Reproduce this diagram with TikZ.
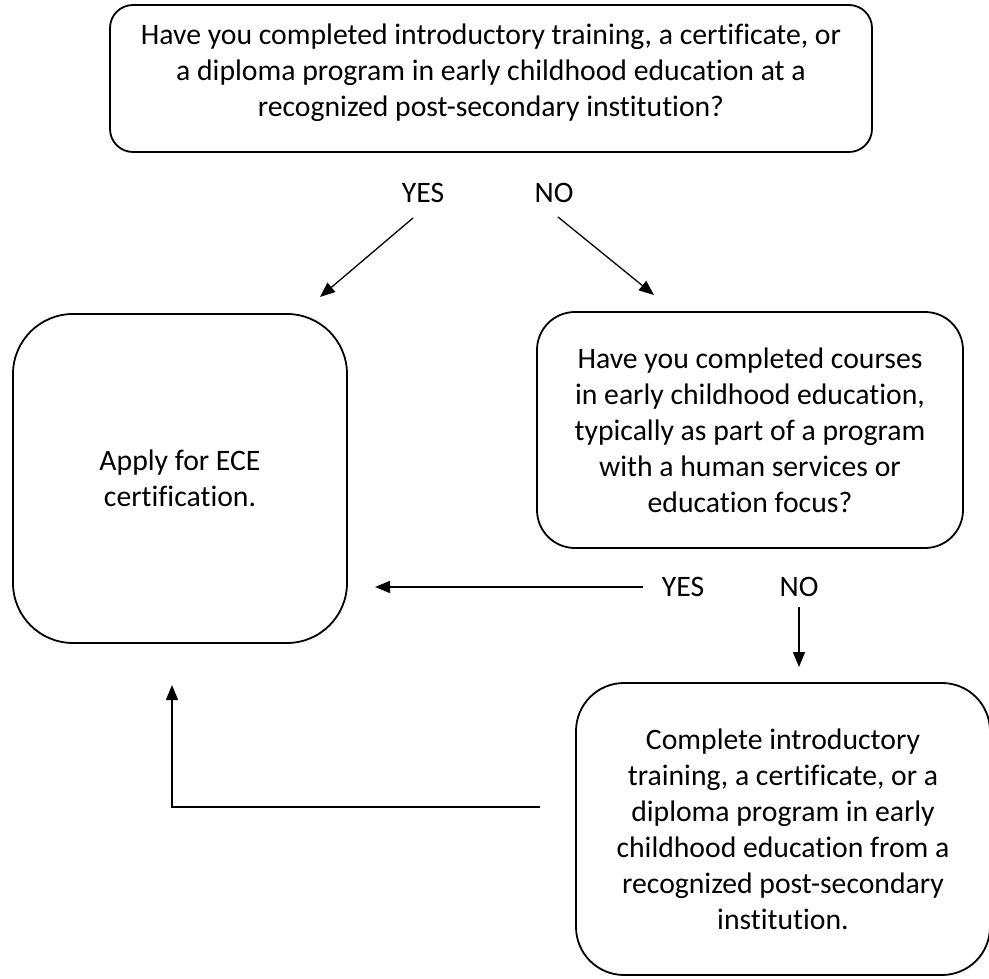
\documentclass[tikz,border=0pt]{standalone}
\usepackage{fontspec}
\setmainfont{Carlito}[Ligatures=CommonOff]
\usetikzlibrary{arrows.meta}
\begin{document}
\begin{tikzpicture}[x=1pt,y=-1pt,
  box/.style={draw,line width=1.8pt,align=center,inner sep=0pt,font=\fontsize{29.7}{36}\selectfont},
  txt/.style={align=center,inner sep=0pt,font=\fontsize{29.7}{36}\selectfont},
  lbl/.style={inner sep=0pt,font=\fontsize{29.7}{36}\selectfont},
  arr/.style={line width=1.3pt,-{Triangle[length=15pt,width=12pt]}}]
\useasboundingbox (0,0) rectangle (989,979);
\node[box,rounded corners=23pt,minimum width=762pt,minimum height=147pt] (q1) at (491,78.5) {};
\node[txt] (q1t) at (491,73)
  {Have you completed introductory training, a certificate, or\\
   a diploma program in early childhood education at a\\
   recognized post-secondary institution?};
\node[box,rounded corners=60pt,minimum width=334pt,minimum height=329pt] (apply) at (180,478.5)
  {Apply for ECE\\certification.};
\node[box,rounded corners=38pt,minimum width=426pt,minimum height=236pt] (q2) at (750,430)
  {Have you completed courses\\
   in early childhood education,\\
   typically as part of a program\\
   with a human services or\\
   education focus?};
\node[box,rounded corners=48pt,minimum width=414pt,minimum height=292pt] (done) at (783,829)
  {Complete introductory\\
   training, a certificate, or a\\
   diploma program in early\\
   childhood education from a\\
   recognized post-secondary\\
   institution.};
\node[lbl] (yes1) at (423,193) {YES};
\node[lbl] (no1) at (554,193) {NO};
\node[lbl] (yes2) at (683,587) {YES};
\node[lbl] (no2) at (799,587) {NO};
\coordinate (y1s) at (413,218);
\coordinate (y1e) at (320,297);
\coordinate (n1s) at (558,217);
\coordinate (n1e) at (654,295);
\coordinate (y2s) at (643,587);
\coordinate (y2e) at (375,587);
\coordinate (n2s) at (799,607);
\coordinate (n2e) at (799,667);
\coordinate (ls) at (540,807);
\coordinate (lc) at (172,807);
\coordinate (le) at (172,685);
\draw[arr] (y1s) -- (y1e);
\draw[arr] (n1s) -- (n1e);
\draw[arr] (y2s) -- (y2e);
\draw[arr] (n2s) -- (n2e);
\draw[arr] (ls) -- (lc) -- (le);
\end{tikzpicture}
\end{document}
